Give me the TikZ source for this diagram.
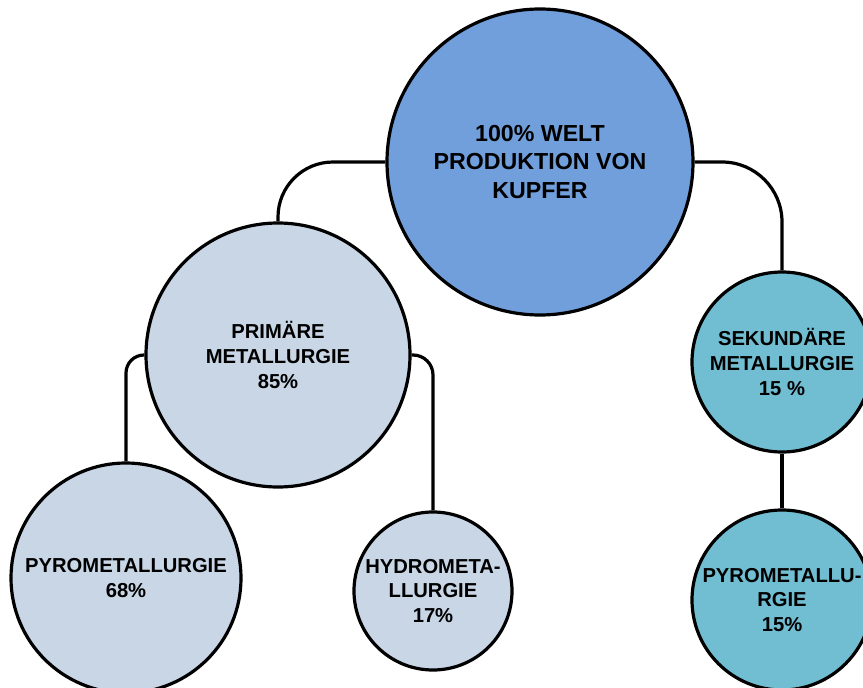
\documentclass[tikz,border=0pt]{standalone}
\usepackage{fontspec}
\setmainfont{Liberation Sans}
\definecolor{worldblue}{RGB}{112,159,219}
\definecolor{primgray}{RGB}{200,214,230}
\definecolor{secteal}{RGB}{113,190,210}
\begin{document}
\begin{tikzpicture}[x=1pt,y=-1pt,
  bubble/.style={circle,draw=black,line width=3.2pt,inner sep=0pt,align=center,
    font=\fontsize{20.2}{24.8}\selectfont\bfseries},
  link/.style={line width=3.2pt,draw=black}]
\useasboundingbox (0,0) rectangle (863,688);
% circles
\node[bubble,fill=worldblue,minimum size=306pt,font=\fontsize{23.2}{28.3}\selectfont\bfseries]
  (world) at (540,162) {100\% WELT\\PRODUKTION VON\\KUPFER};
\node[bubble,fill=primgray,minimum size=264pt] (prim) at (278,355) {PRIMÄRE\\METALLURGIE\\85\%};
\node[bubble,fill=primgray,minimum size=230pt] (pyroA) at (126,578) {PYROMETALLURGIE\\68\%};
\node[bubble,fill=primgray,minimum size=158pt] (hydro) at (433,591) {HYDROMETA-\\LLURGIE\\17\%};
\node[bubble,fill=secteal,minimum size=180pt] (sek) at (782,362) {SEKUNDÄRE\\METALLURGIE\\15 \%};
\node[bubble,fill=secteal,minimum size=180pt] (pyroB) at (782,600) {PYROMETALLU-\\RGIE\\15\%};
% connectors between the circles
\draw[link,rounded corners=55pt] (world.west) -| (prim.north);
\draw[link,rounded corners=60pt] (world.east) -| (sek.north);
\draw[link,rounded corners=18pt] (prim.west) -| (pyroA.north);
\draw[link,rounded corners=20pt] (prim.east) -| (hydro.north);
\draw[link] (sek.south) -- (pyroB.north);
\end{tikzpicture}
\end{document}
